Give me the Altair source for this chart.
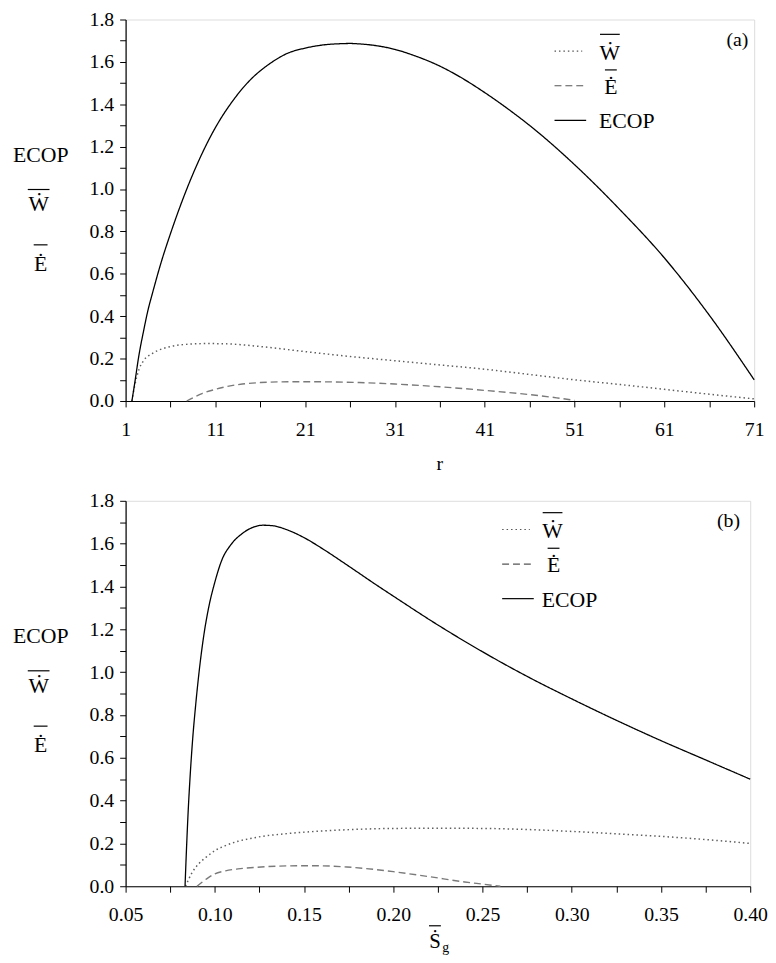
import altair as alt
import pandas as pd

# ---------------- data: panel (a), x = r ----------------
r_ecop = [1.7, 2.0, 2.5, 3.0, 3.5, 4.0, 5.0, 6.0, 7.0, 8.0, 9.0, 10, 11, 13, 15, 17, 19, 21, 23,
          25, 26, 27, 29, 31, 33, 36, 38, 41, 44, 46, 51, 56, 61, 66, 71]
ecop_a = [0.0, 0.08, 0.22, 0.33, 0.43, 0.51, 0.66, 0.79, 0.91, 1.02, 1.12, 1.21, 1.29, 1.42, 1.52,
          1.59, 1.64, 1.665, 1.68, 1.686, 1.687, 1.685, 1.676, 1.659, 1.632, 1.58, 1.535, 1.455,
          1.365, 1.30, 1.115, 0.905, 0.675, 0.405, 0.10]
r_w = [1.7, 2.0, 2.5, 3.0, 4.0, 5.0, 6.0, 8.0, 10, 12, 14, 16, 21, 26, 31, 36, 41, 46, 51, 56, 61, 66, 71]
w_a = [0.0, 0.07, 0.15, 0.19, 0.225, 0.245, 0.257, 0.268, 0.271, 0.27, 0.265, 0.257, 0.233, 0.21,
       0.19, 0.17, 0.15, 0.125, 0.10, 0.078, 0.055, 0.032, 0.01]
r_e = [7.8, 8.5, 9.5, 11, 12.5, 14, 16, 18, 21, 24, 27, 31, 36, 41, 46, 49, 51]
e_a = [0.0, 0.015, 0.035, 0.055, 0.07, 0.08, 0.087, 0.09, 0.091, 0.09, 0.087, 0.08, 0.067, 0.05,
       0.03, 0.015, 0.003]

# ---------------- data: panel (b), x = S_g ----------------
s_ecop = [0.0833, 0.0840, 0.0850, 0.0862, 0.0876, 0.0893, 0.0913, 0.0937, 0.0965, 0.100, 0.104,
          0.109, 0.115, 0.121, 0.127, 0.133, 0.140, 0.150, 0.160, 0.175, 0.190, 0.20, 0.225, 0.25,
          0.275, 0.30, 0.325, 0.35, 0.375, 0.40]
ecop_b = [0.0, 0.15, 0.34, 0.52, 0.69, 0.85, 1.01, 1.165, 1.30, 1.42, 1.525, 1.595, 1.645, 1.675,
          1.686, 1.683, 1.666, 1.628, 1.578, 1.495, 1.41, 1.355, 1.22, 1.095, 0.98, 0.875, 0.775,
          0.68, 0.59, 0.50]
s_w = [0.0836, 0.087, 0.091, 0.095, 0.100, 0.106, 0.113, 0.12, 0.128, 0.137, 0.146, 0.16, 0.174,
       0.20, 0.225, 0.25, 0.275, 0.30, 0.325, 0.35, 0.375, 0.40]
w_b = [0.0, 0.06, 0.105, 0.135, 0.166, 0.19, 0.21, 0.223, 0.235, 0.243, 0.25, 0.258, 0.264, 0.27,
       0.271, 0.27, 0.265, 0.256, 0.245, 0.233, 0.218, 0.20]
s_e = [0.090, 0.093, 0.096, 0.100, 0.106, 0.113, 0.124, 0.14, 0.155, 0.174, 0.19, 0.20, 0.22, 0.24,
       0.25, 0.26]
e_b = [0.0, 0.02, 0.038, 0.058, 0.072, 0.081, 0.089, 0.095, 0.096, 0.09, 0.078, 0.068, 0.045, 0.02,
       0.01, 0.0]

r_ticks = list(range(1, 72, 5))
s_ticks = [round(0.05 + 0.025 * i, 3) for i in range(15)]
y_ticks = [round(0.1 * i, 1) for i in range(19)]
series = ["W", "E", "ECOP"]

FONT = "Liberation Serif"
TICK_FS = 20
LAB_FS = 22


def long_df(xs_list, ys_list):
    rows = []
    for name, xs, ys in zip(series, xs_list, ys_list):
        for i, (x, y) in enumerate(zip(xs, ys)):
            rows.append({"x": x, "y": y, "s": name, "o": i})
    return pd.DataFrame(rows)


def txt(t, x, y, size=LAB_FS, align="center", baseline="alphabetic"):
    return alt.Chart(pd.DataFrame({"t": [t]})).mark_text(
        font=FONT, fontSize=size, align=align, baseline=baseline, color="black"
    ).encode(x=alt.value(x), y=alt.value(y), text="t:N")


def seg(x1, x2, y, dash=None, color="black", width=1.2):
    kw = dict(color=color, strokeWidth=width)
    if dash is not None:
        kw["strokeDash"] = dash
    return alt.Chart(pd.DataFrame({"a": [0]})).mark_rule(**kw).encode(
        x=alt.value(x1), x2=alt.value(x2), y=alt.value(y))


def panel(df, xdomain, xvals, xlabel_expr, tag, tag_x, leg, xtitle, w, h):
    xs = alt.Scale(domain=xdomain, nice=False, zero=False)
    ys = alt.Scale(domain=[0, 1.8], nice=False)
    ax_common = dict(grid=False, tickSize=6, labelFont=FONT, labelFontSize=TICK_FS,
                     labelColor="black", domainColor="black", tickColor="black",
                     domainWidth=1.2, tickWidth=1, labelFlush=False, title=None)
    lines = alt.Chart(df).mark_line(interpolate="monotone").encode(
        x=alt.X("x:Q", scale=xs,
                axis=alt.Axis(values=xvals, labelExpr=xlabel_expr, labelPadding=13, **ax_common)),
        y=alt.Y("y:Q", scale=ys,
                axis=alt.Axis(values=y_ticks,
                              labelExpr="round(datum.value*10)%2==0 ? format(datum.value,'.1f') : ''",
                              labelPadding=6, **ax_common)),
        order="o:Q",
        color=alt.Color("s:N", scale=alt.Scale(domain=series, range=["#5e5e5e", "#7a7a7a", "black"]),
                        legend=None),
        strokeDash=alt.StrokeDash("s:N", scale=alt.Scale(domain=series,
                                                         range=[[1.5, 3], [7, 4], [1, 0]]),
                                  legend=None),
        strokeWidth=alt.StrokeWidth("s:N", scale=alt.Scale(domain=series, range=[1.5, 1.3, 1.5]),
                                    legend=None),
    )
    layers = [lines]
    # y-axis title block
    layers += [txt("ECOP", -114, 144, align="left"),
               txt("\u1E86", -88, 194), seg(-99, -77, 172),
               txt("\u0116", -86, 254), seg(-93, -79, 228)]
    # legend
    lx, ly, tx = leg
    layers += [seg(lx, lx + 28, ly, dash=[1.5, 3], color="#555"),
               txt("\u1E86", tx + 11, ly + 9), seg(tx + 1, tx + 21, ly - 17),
               seg(lx, lx + 30, ly + 35, dash=[7, 4], color="#555"),
               txt("\u0116", tx + 12, ly + 43), seg(tx + 6, tx + 18, ly + 19),
               seg(lx, lx + 32, ly + 70, color="black"),
               txt("ECOP", tx, ly + 78, align="left")]
    layers += [txt(tag, tag_x, 27, size=TICK_FS)]
    layers += xtitle
    return alt.layer(*layers).properties(width=w, height=h)


df_a = long_df([r_w, r_e, r_ecop], [w_a, e_a, ecop_a])
df_b = long_df([s_w, s_e, s_ecop], [w_b, e_b, ecop_b])

WA, HA = 636, 386
WB, HB = 632, 390

top = panel(df_a, [1, 71], r_ticks, "(datum.value-1)%10==0 ? datum.value : ''", "(a)", 619,
            (434, 32, 479), [txt("r", WA / 2, HA + 70, size=TICK_FS)], WA, HA)
bottom = panel(df_b, [0.05, 0.40], s_ticks,
               "round(datum.value*1000)%50==0 ? format(datum.value,'.2f') : ''", "(b)", 610,
               (381, 29, 421),
               [txt("\u1E60", WB / 2 - 3, HB + 62, size=21), seg(WB / 2 - 9, WB / 2 + 3, HB + 40),
                txt("g", WB / 2 + 8, HB + 67, size=14)], WB, HB)

chart = alt.vconcat(top, bottom, spacing=15).properties(
    padding={"left": 4, "top": -5, "right": 0, "bottom": 0}
).configure_view(stroke="black", strokeWidth=1.2).configure(background="white")

chart.save("out.html", embed_options={"renderer": "svg", "actions": False})
